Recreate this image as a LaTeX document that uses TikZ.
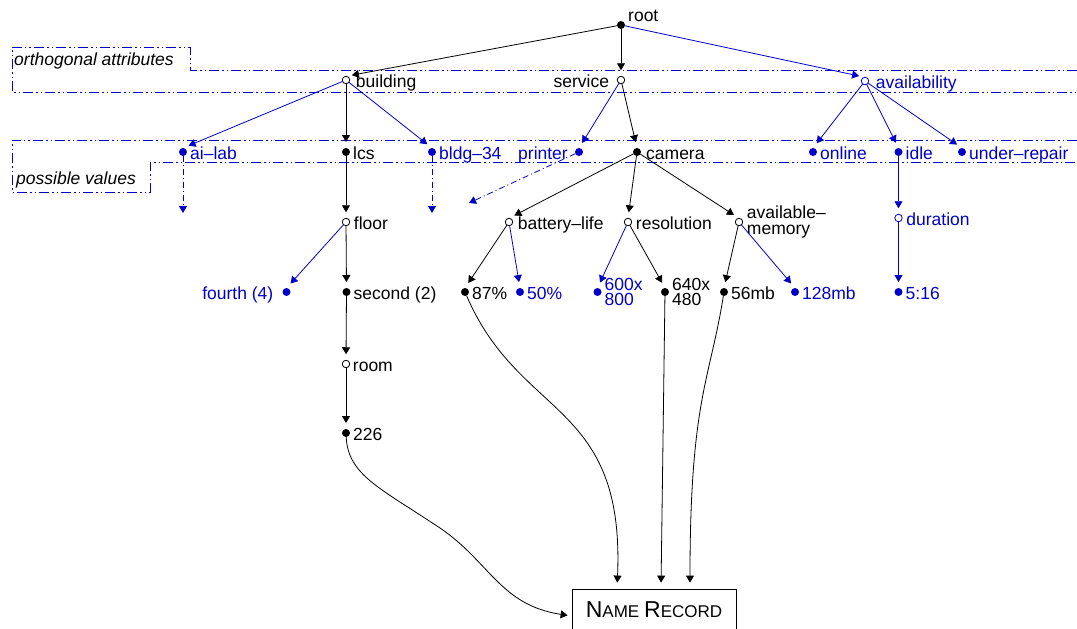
\documentclass[tikz,border=0pt]{standalone}
\usepackage{fontspec}
\setmainfont{Liberation Sans}
\usetikzlibrary{arrows.meta}
\definecolor{attrblue}{RGB}{0,0,200}

\begin{document}
\begin{tikzpicture}[x=1pt,y=-1pt,
  every node/.style={font=\fontsize{17.5}{15.5}\selectfont},
  val/.style={circle, fill, inner sep=0pt, minimum size=8pt, outer sep=0pt},
  bval/.style={val, attrblue},
  attr/.style={circle, draw, fill=white, line width=0.8pt, inner sep=0pt, minimum size=7.5pt, outer sep=0pt},
  battr/.style={attr, draw=attrblue},
  lbl/.style={inner sep=0pt, text height=12pt, text depth=4pt, yshift=-3pt, label distance=4pt},
  blbl/.style={lbl, attrblue},
  lbltwo/.style={inner sep=0pt, align=left, label distance=4pt},
  note/.style={anchor=base west, inner sep=0pt, font=\fontsize{17.5}{15}\selectfont\itshape},
  link/.style={line width=0.8pt, -{Triangle[length=7pt,width=8pt]}, shorten >=6pt},
  blink/.style={link, attrblue},
  dlink/.style={blink, shorten >=0pt, dash pattern=on 6pt off 3pt on 1pt off 3pt},
  frame/.style={attrblue, line width=0.8pt, dash pattern=on 10pt off 3pt on 1.5pt off 3pt on 1.5pt off 3pt}]
\useasboundingbox (0,0) rectangle (1077,629);

\draw[frame] (1077,70) -- (190,70) -- (190,47) -- (12,47) -- (12,92) -- (1077,92);
\draw[frame] (1077,140) -- (12,140) -- (12,192) -- (150,192) -- (150,162) -- (1077,162);
\node[note] (orthtext) at (14,65) {orthogonal attributes};
\node[note] (valtext) at (16,184) {possible values};

\node[val, label={[lbl, yshift=10.5pt, label distance=3pt]right:root}] (root) at (621,25) {};

\node[attr, label={[lbl, label distance=6pt]right:building}] (building) at (346,80) {};
\node[attr, label={[lbl, label distance=8pt]left:service}] (service) at (621,80) {};
\node[battr, label={[blbl, label distance=7pt]right:availability}] (avail) at (865,81) {};

\node[bval, label={[blbl, label distance=3pt]right:ai--lab}] (ailab) at (183,152) {};
\node[val, label={[lbl, label distance=3pt]right:lcs}] (lcs) at (346,152) {};
\node[bval, label={[blbl, label distance=3pt]right:bldg--34}] (bldg) at (432,152) {};
\node[bval, label={[blbl, label distance=7pt]left:printer}] (printer) at (579,152) {};
\node[val, label={[lbl, label distance=5pt]right:camera}] (camera) at (637,152) {};
\node[bval, label={[blbl, label distance=3pt]right:online}] (online) at (813,152) {};
\node[bval, label={[blbl, label distance=3pt]right:idle}] (idle) at (898.5,152) {};
\node[bval, label={[blbl, label distance=3pt]right:under--repair}] (repair) at (962,152) {};

\node[attr, label={[lbl]right:floor}] (floor) at (346,222) {};
\node[attr, label={[lbl, label distance=5pt]right:battery--life}] (battery) at (509,222) {};
\node[attr, label={[lbl]right:resolution}] (resol) at (628,222) {};
\node[attr, label={[lbltwo]right:{available--\\memory}}] (availmem) at (739,222) {};
\node[battr, label={[blbl]right:duration}] (duration) at (898.5,218) {};

\node[bval, label={[blbl, label distance=9pt]left:fourth (4)}] (fourth) at (286.5,292) {};
\node[val, label={[lbl, label distance=3pt]right:second (2)}] (second) at (346.5,292) {};
\node[val, label={[lbl, label distance=3pt]right:87\%}] (p87) at (465,292) {};
\node[bval, label={[blbl, label distance=3pt]right:50\%}] (p50) at (520,292) {};
\node[bval, label={[lbltwo, attrblue, label distance=3pt]right:{600x\\800}}] (r600) at (597.5,292) {};
\node[val, label={[lbltwo, label distance=3pt]right:{640x\\480}}] (r640) at (665,292) {};
\node[val, label={[lbl, label distance=3pt]right:56mb}] (m56) at (724,292) {};
\node[bval, label={[blbl, label distance=3pt]right:128mb}] (m128) at (795,292) {};
\node[bval, label={[blbl, label distance=3pt]right:5:16}] (t516) at (898.5,292) {};

\node[attr, label={[lbl, label distance=3pt]right:room}] (room) at (346,364) {};
\node[val, label={[lbl, label distance=3pt]right:226}] (n226) at (346,433) {};

\node[draw, line width=0.8pt, minimum width=164pt, minimum height=42pt, inner sep=0pt] (record) at (654,610)
  {{\fontsize{23}{23}\selectfont N}{\fontsize{17}{17}\selectfont AME} {\fontsize{23}{23}\selectfont R}{\fontsize{17}{17}\selectfont ECORD}};

\draw[link] (root) -- (building.north);
\draw[link] (root) -- (service.north);
\draw[blink] (root) -- (avail.north);

\draw[blink] (building) -- (ailab.north);
\draw[link] (building) -- (lcs.north);
\draw[blink] (building) -- (bldg.north);
\draw[blink] (service) -- (printer.north);
\draw[link] (service) -- (camera.north);
\draw[blink] (avail) -- (online.north);
\draw[blink] (avail) -- (idle.north);
\draw[blink] (avail) -- (repair.north);

\coordinate (ailabend) at (183,213);
\coordinate (bldgend) at (432,213);
\coordinate (printerend) at (469,203);
\draw[dlink] (ailab) -- (ailabend);
\draw[dlink] (bldg) -- (bldgend);
\draw[dlink] (printer) -- (printerend);

\draw[link] (lcs) -- (floor.north);
\draw[link] (camera) -- (battery.north);
\draw[link] (camera) -- (resol.north);
\draw[link] (camera) -- (availmem.north);
\draw[blink] (idle) -- (duration.north);

\draw[blink] (floor) -- (fourth.north);
\draw[link] (floor) -- (second.north);
\draw[link] (battery) -- (p87.north);
\draw[blink] (battery) -- (p50.north);
\draw[blink] (resol) -- (r600.north);
\draw[link] (resol) -- (r640.north);
\draw[link] (availmem) -- (m56.north);
\draw[blink] (availmem) -- (m128.north);
\draw[blink] (duration) -- (t516.north);

\draw[link] (second) -- (room.north);
\draw[link] (room) -- (n226.north);

\draw[link] (p87) .. controls (520,420) and (625,400) .. ([xshift=-37pt]record.north);
\draw[link] (r640) -- ([xshift=7pt]record.north);
\draw[link] (m56) .. controls (710,380) and (690,400) .. ([xshift=36pt]record.north);
\draw[link, shorten >=4pt] (n226) .. controls (348,475) and (380,488) .. (440,528)
  .. controls (490,562) and (500,605) .. ([yshift=-6pt]record.west);
\end{tikzpicture}
\end{document}
